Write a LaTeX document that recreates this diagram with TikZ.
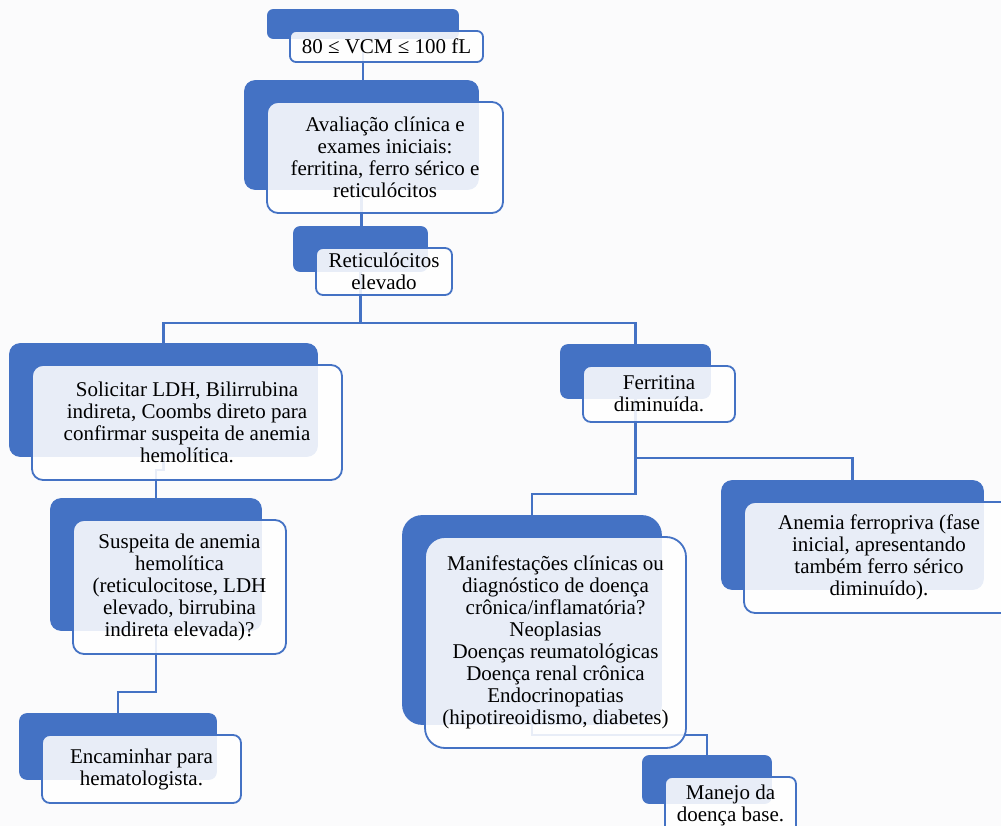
\documentclass[tikz,border=0pt]{standalone}
\usepackage{fontspec}
\setmainfont{Liberation Serif}
\usetikzlibrary{backgrounds}
\definecolor{accent}{HTML}{4472C4}
\definecolor{paper}{HTML}{FBFBFC}

\begin{document}
\begin{tikzpicture}[x=1pt, y=-1pt,
	card/.style={draw=accent, line width=1.8pt, fill=white, fill opacity=0.88, text opacity=1, rounded corners=11pt, align=center, inner sep=2pt, font=\fontsize{21}{22}\selectfont},
	back/.style={fill=accent, rounded corners=11pt},
	link/.style={draw=accent, line width=2.4pt}]
	\useasboundingbox (0,0) rectangle (1001,826);

	% white cards
	\node [card, rounded corners=6pt, minimum width=193pt, minimum height=31pt] (vcm) at (386.5,46.5) {80 ≤ VCM ≤ 100 fL};
	\node [card, minimum width=236pt, minimum height=111pt] (aval) at (385,157.5) {Avaliação clínica e\\exames iniciais:\\ferritina, ferro sérico e\\reticulócitos};
	\node [card, rounded corners=7pt, minimum width=136pt, minimum height=47pt] (retic) at (384,271.5) {Reticulócitos\\elevado};
	\node [card, minimum width=310pt, minimum height=115pt] (sol) at (187,422.5) {Solicitar LDH, Bilirrubina\\indireta, Coombs direto para\\confirmar suspeita de anemia\\hemolítica.};
	\node [card, minimum width=213pt, minimum height=134pt] (sus) at (179.5,587) {Suspeita de anemia\\hemolítica\\(reticulocitose, LDH\\elevado, birrubina\\indireta elevada)?};
	\node [card, rounded corners=8pt, minimum width=199pt, minimum height=68pt] (enc) at (141.5,769) {Encaminhar para\\hematologista.};
	\node [card, rounded corners=8pt, minimum width=152pt, minimum height=56pt] (fer) at (659,394) {Ferritina\\diminuída.};
	\node [card, minimum width=270pt, minimum height=111pt] (ane) at (879,557.5) {Anemia ferropriva (fase\\inicial, apresentando\\também ferro sérico\\diminuído).};
	\node [card, rounded corners=20pt, minimum width=261pt, minimum height=211pt] (man) at (555.5,642.5) {Manifestações clínicas ou\\diagnóstico de doença\\crônica/inflamatória?\\Neoplasias\\Doenças reumatológicas\\Doença renal crônica\\Endocrinopatias\\(hipotireoidismo, diabetes)};
	\node [card, rounded corners=7pt, minimum width=131pt, minimum height=56pt] (mnj) at (730.5,805) {Manejo da\\doença base.};

	% centres of the blue backs
	\coordinate (vcm-b) at ([shift={(-23.5,-22.5)}]vcm.center);
	\coordinate (aval-b) at ([shift={(-23.5,-22.5)}]aval.center);
	\coordinate (retic-b) at ([shift={(-23.5,-22.5)}]retic.center);
	\coordinate (sol-b) at ([shift={(-23.5,-22.5)}]sol.center);
	\coordinate (sus-b) at ([shift={(-23.5,-22.5)}]sus.center);
	\coordinate (enc-b) at ([shift={(-23.5,-22.5)}]enc.center);
	\coordinate (fer-b) at ([shift={(-23.5,-22.5)}]fer.center);
	\coordinate (ane-b) at ([shift={(-26.5,-22.5)}]ane.center);
	\coordinate (man-b) at ([shift={(-23.5,-22.5)}]man.center);
	\coordinate (mnj-b) at ([shift={(-23.5,-25.5)}]mnj.center);

	\begin{scope}[on background layer]
		\fill [paper] (0,0) rectangle (1001,826);
		% connectors
		\draw [link] (vcm-b) -- (vcm-b |- aval-b);
		\draw [link] (aval-b) -- (aval-b |- retic-b);
		\draw [link] (retic-b) -- (retic-b |- 0,323) -| (sol-b);
		\draw [link] (retic-b |- 0,323) -| (fer-b);
		\draw [link] (sol-b) -- (sol-b |- 0,470) -| (sus-b);
		\draw [link] (sus-b) -- (sus-b |- 0,692) -| (enc-b);
		\draw [link] (fer-b) -- (fer-b |- 0,494) -| (man-b);
		\draw [link] (fer-b |- 0,458) -| (ane-b);
		\draw [link] (man-b) -- (man-b |- 0,735) -| (mnj-b);
		% blue backs
		\fill [back, rounded corners=6pt] ([shift={(-22,-21)}]vcm.north west) rectangle ([shift={(-25,-24)}]vcm.south east);
		\fill [back] ([shift={(-22,-21)}]aval.north west) rectangle ([shift={(-25,-24)}]aval.south east);
		\fill [back, rounded corners=7pt] ([shift={(-22,-21)}]retic.north west) rectangle ([shift={(-25,-24)}]retic.south east);
		\fill [back] ([shift={(-22,-21)}]sol.north west) rectangle ([shift={(-25,-24)}]sol.south east);
		\fill [back] ([shift={(-22,-21)}]sus.north west) rectangle ([shift={(-25,-24)}]sus.south east);
		\fill [back, rounded corners=8pt] ([shift={(-22,-21)}]enc.north west) rectangle ([shift={(-25,-24)}]enc.south east);
		\fill [back, rounded corners=8pt] ([shift={(-22,-21)}]fer.north west) rectangle ([shift={(-25,-24)}]fer.south east);
		\fill [back] ([shift={(-22,-21)}]ane.north west) rectangle ([shift={(-31,-24)}]ane.south east);
		\fill [back, rounded corners=20pt] ([shift={(-22,-21)}]man.north west) rectangle ([shift={(-25,-24)}]man.south east);
		\fill [back, rounded corners=7pt] ([shift={(-22,-21)}]mnj.north west) rectangle ([shift={(-25,-30)}]mnj.south east);
	\end{scope}
\end{tikzpicture}
\end{document}
